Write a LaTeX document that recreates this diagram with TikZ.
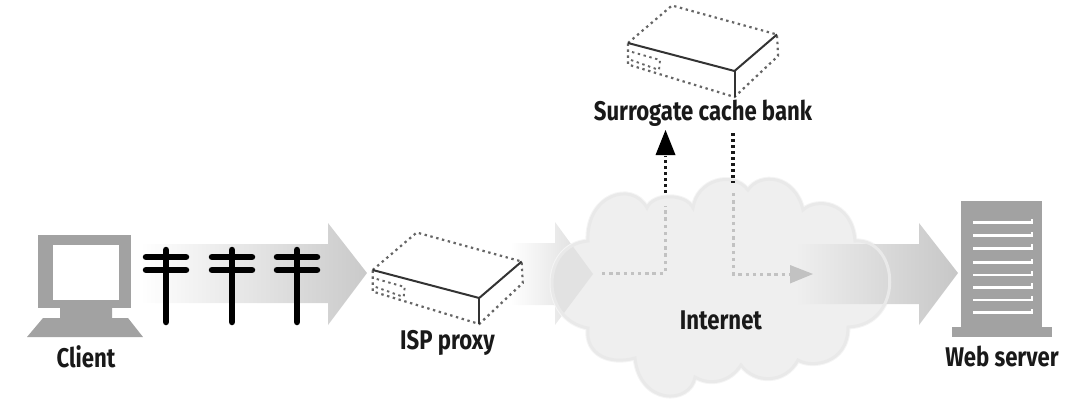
\documentclass[tikz,border=0pt]{standalone}
\usepackage{fontspec}
\setmainfont{Fira Sans}[FakeStretch=0.82]
\usetikzlibrary{arrows.meta}
\definecolor{iconGrey}{HTML}{A2A2A2}
\definecolor{cloudFill}{HTML}{EFEFEF}
\definecolor{cloudEdge}{HTML}{E9E9E9}
\definecolor{cloudHalo}{HTML}{F5F5F5}
\definecolor{tipGrey}{HTML}{E2E2E2}
\definecolor{pathGrey}{HTML}{C2C2C2}
\definecolor{boxLine}{HTML}{333333}
\tikzset{
  lab/.style={font=\bfseries\fontsize{27}{30}\selectfont, text=black!90, inner sep=0pt},
  boxsolid/.style={draw=boxLine, line width=2pt},
  boxdot/.style={draw=boxLine!75, line width=2.2pt, dash pattern=on 2.4pt off 3.6pt},
  blackdot/.style={draw=black!90, line width=3.6pt, dash pattern=on 3pt off 3pt},
  greydot/.style={draw=pathGrey, line width=3pt, dash pattern=on 3.4pt off 3.8pt},
  poleLine/.style={draw=black, line width=6.5pt, line cap=round},
  srvLine/.style={draw=white, line width=2.6pt},
  pics/cachebox/.style={code={
    \path[fill=white] (0,0) -- (44,-37.5) -- (149,-8.5) -- (150,13) -- (106.5,54) -- (0,21.5) -- cycle;
    \draw[boxdot] (0,0) -- (44,-37.5) -- (149,-8.5) -- (150,13) -- (106.5,54) -- (0,21.5) -- cycle;
    \draw[boxsolid] (0,0) -- (106.5,28) -- (149,-8.5);
    \draw[boxsolid] (106.5,28) -- (106.5,54);
    \draw[boxdot, line width=1.9pt] (4,9) -- (32,17) -- (31,27);
    \draw[boxdot, line width=1.9pt] (3,17) -- (31,27);
  }}
}
\newcommand{\cloudshape}{(588,241)
  .. controls (586,195) and (632,180) .. (647,208)
  .. controls (653,193) and (686,193) .. (693,208)
  .. controls (697,180) and (732,170) .. (748,190)
  .. controls (760,172) and (795,175) .. (803,210)
  .. controls (815,198) and (852,200) .. (855,241)
  .. controls (900,238) and (905,325) .. (848,327)
  .. controls (848,365) and (810,368) .. (798,360)
  .. controls (785,384) and (755,384) .. (741,365)
  .. controls (730,382) and (710,386) .. (695,377)
  .. controls (690,405) and (640,405) .. (635,358)
  .. controls (610,365) and (585,355) .. (588,328)
  .. controls (540,320) and (540,245) .. (588,241) -- cycle}
\newcommand{\midarrow}{(510,243) -- (555,243) -- (555,222) -- (593,274) -- (555,325) -- (555,305) -- (510,305) -- cycle}
\begin{document}
\begin{tikzpicture}[x=1pt,y=-1pt]
\useasboundingbox (0,0) rectangle (1080,418);
% client to proxy arrow
\path[left color=white, right color=black!21]
  (140,244) -- (328,244) -- (328,223) -- (367,273) -- (328,325) -- (328,303) -- (140,303) -- cycle;
% proxy to internet arrow, then the cloud over it
\path[left color=white, right color=black!15] \midarrow;
\path[draw=cloudHalo, line width=5pt] \cloudshape;
\path[fill=cloudFill] \cloudshape;
\begin{scope}
  \clip \cloudshape;
  \path[fill=tipGrey] \midarrow;
\end{scope}
% internet to server arrow
\path[left color=cloudFill, right color=black!22]
  (795,244) -- (919,244) -- (919,223) -- (958,273) -- (919,325) -- (919,304) -- (795,304) -- cycle;
\path[draw=cloudEdge, line width=3pt] \cloudshape;
% client icon
\path[fill=iconGrey] (38,235) rectangle (131,308);
\path[fill=white] (53,245) rectangle (119,300);
\path[fill=iconGrey] (60,308) -- (112,308) -- (112,318) -- (128,318) -- (143,337) -- (27,337) -- (43,318) -- (60,318) -- cycle;
% poles
\foreach \px/\pn in {166/a,232/b,297/c}{
  \draw[poleLine] (\px,250) -- (\px,322);
  \draw[poleLine] (\px-20,257) -- (\px+20,257);
  \draw[poleLine] (\px-20,270) -- (\px+20,270);
}
% boxes
\pic at (372.7,270) {cachebox};
\pic at (628,43) {cachebox};
% server
\path[fill=iconGrey] (961,201) rectangle (1042,327);
\path[fill=iconGrey] (952,327) rectangle (1052,337);
\foreach \ly in {222.7,235.7,248.3,262.7,275,287.3,300,312.7}{
  \draw[srvLine] (973,\ly) -- (1032,\ly) -- (1032,\ly-4);
}
% routed paths
\coordinate (inA) at (602,273);
\coordinate (inB) at (665,273);
\coordinate (inC) at (665,206);
\coordinate (outA) at (665.5,193);
\coordinate (outB) at (665.5,156);
\coordinate (upTip) at (665.5,130);
\coordinate (dnA) at (733,133);
\coordinate (dnB) at (733,183);
\coordinate (dnC) at (733,193);
\coordinate (dnD) at (733,274);
\coordinate (dnE) at (790,274);
\draw[greydot] (inA) -- (inB) -- (inC);
\draw[blackdot] (outA) -- (outB);
\path[fill=black] (upTip) -- (675.5,155) -- (655.5,155) -- cycle;
\draw[blackdot] (dnA) -- (dnB);
\draw[greydot] (dnC) -- (dnD) -- (dnE);
\path[fill=pathGrey] (790,265) -- (813,274) -- (790,283.5) -- cycle;
% labels
\node[lab] (client) at (86,357) {Client};
\node[lab] (isp) at (447.5,343) {ISP proxy};
\node[lab] (bank) at (703,113) {Surrogate cache bank};
\node[lab] (net) at (721,320) {Internet};
\node[lab] (web) at (1002,356) {Web server};
\end{tikzpicture}
\end{document}
